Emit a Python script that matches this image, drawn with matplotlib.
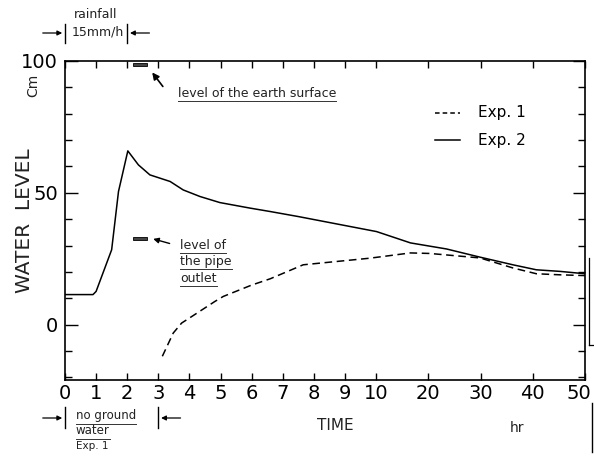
import numpy as np
import matplotlib
matplotlib.use('Agg')
import matplotlib.pyplot as plt
from matplotlib import transforms
from matplotlib.lines import Line2D
from matplotlib.patches import Rectangle

# ---------------- data ----------------
exp2_hours = [0, 0.9, 1.0, 1.5, 1.72, 2.02, 2.36, 2.73, 3.38, 3.8, 4.34, 4.98,
              5.95, 6.6, 7.5, 9.0, 10.1, 16.6, 23.5, 29.9, 36.2, 40.7, 45.2, 50]
exp2_level = [11.4, 11.4, 12.6, 28.4, 50.5, 65.9, 60.6, 56.8, 54.3, 51.1, 48.6, 46.3,
              44.2, 42.9, 41.0, 37.6, 35.3, 31.0, 28.7, 25.6, 22.7, 20.8, 20.2, 19.3]

exp1_hours = [3.13, 3.48, 3.75, 4.0, 4.82, 5.09, 6.0, 6.6, 7.66, 9.8, 16.6, 20.3,
              25.4, 29.9, 36.2, 40.7, 45.2, 50]
exp1_level = [-12.0, -3.2, 0.6, 2.5, 8.8, 10.7, 15.0, 17.4, 22.7, 25.2, 27.2, 27.0,
              26.1, 25.3, 21.5, 19.3, 18.9, 18.6]

x_ticks = [0, 1, 2, 3, 4, 5, 6, 7, 8, 9, 10, 20, 30, 40, 50]
y_major = [0, 50, 100]
y_minor = [-20, -10, 10, 20, 30, 40, 60, 70, 80, 90]
rain_interval = [0, 2]
no_ground_interval = [0, 3]
earth_surface_level = 98.6
pipe_outlet_level = 32.8
legend_labels = ['Exp. 1', 'Exp. 2']

# ---------------- figure ----------------
W, H = 594, 457
fig = plt.figure(figsize=(W / 100, H / 100), dpi=100)
ax = fig.add_axes([65 / W, 1 - 380 / H, 520 / W, 319 / H])

_bx = [-100, 0, 10, 50, 1000]
_by = [-100, 0, 10, 10 + 40 * 0.168, 10 + 40 * 0.168 + 950 * 0.168]


def fwd(t):
    return np.interp(t, _bx, _by)


def inv(u):
    return np.interp(u, _by, _bx)


ax.set_xscale('function', functions=(fwd, inv))
ax.set_xlim(0, 50)
ax.set_ylim(-21, 100)

ax.plot(exp2_hours, exp2_level, color='black', lw=1.1)
ax.plot(exp1_hours, exp1_level, color='black', lw=1.1, ls=(0, (5, 3)))

ax.set_xticks(x_ticks)
ax.set_xticklabels([str(v) for v in x_ticks])
ax.set_xticks([], minor=True)
ax.set_yticks(y_major)
ax.set_yticks(y_minor, minor=True)
ax.tick_params(which='both', direction='in', top=True, right=True,
               labelsize=14, width=1.0, color='black')
ax.tick_params(axis='y', which='major', length=9, pad=5)
ax.tick_params(axis='y', which='minor', length=5)
ax.tick_params(axis='x', which='major', length=5, pad=3)
for s in ax.spines.values():
    s.set_linewidth(1.2)

# keep the last x label inside the picture
last = ax.get_xticklabels()[-1]
last.set_transform(last.get_transform() +
                   transforms.ScaledTranslation(-6 / 100, 0, fig.dpi_scale_trans))

# axis titles
fig.text(25 / W, 1 - 221 / H, 'WATER  LEVEL', rotation=90, ha='center', va='center',
         fontsize=14.5, color='#222222')
fig.text(33 / W, 1 - 85 / H, 'Cm', rotation=90, ha='center', va='center',
         fontsize=10, color='#222222')
fig.text(335 / W, 1 - 425 / H, 'TIME', ha='center', va='center', fontsize=11,
         color='#222222')
fig.text(517 / W, 1 - 428 / H, 'hr', ha='center', va='center', fontsize=10,
         color='#222222')

# legend (hand drawn style)
fig.add_artist(Line2D([435 / W, 460 / W], [1 - 113 / H] * 2, color='black', lw=1.1,
                      ls=(0, (3, 2))))
fig.add_artist(Line2D([435 / W, 460 / W], [1 - 140 / H] * 2, color='black', lw=1.1))
fig.text(478 / W, 1 - 113 / H, legend_labels[0], ha='left', va='center', fontsize=11)
fig.text(478 / W, 1 - 140 / H, legend_labels[1], ha='left', va='center', fontsize=11)

underline_targets = []

# earth surface marker
ax.add_patch(Rectangle((2.2, earth_surface_level - 0.6), 0.45, 1.2,
                       facecolor='#444444', edgecolor='black', lw=0.6, clip_on=False))
ax.annotate('', xy=(2.75, 96.5), xytext=(3.2, 89.5),
            arrowprops=dict(arrowstyle='-|>', color='black', lw=1.2, mutation_scale=10))
t1 = ax.text(3.63, 87.5, 'level of the earth surface', ha='left', va='center',
             fontsize=9, color='#222222')
underline_targets.append(t1)

# pipe outlet marker
ax.add_patch(Rectangle((2.19, pipe_outlet_level - 0.6), 0.45, 1.2,
                       facecolor='#444444', edgecolor='black', lw=0.6))
ax.annotate('', xy=(2.75, pipe_outlet_level), xytext=(3.45, pipe_outlet_level - 2.3),
            arrowprops=dict(arrowstyle='-|>', color='black', lw=1.0, mutation_scale=8))
for i, line in enumerate(['level of', 'the pipe', 'outlet']):
    tt = ax.text(3.7, 30.0 - i * 6.2, line, ha='left', va='center', fontsize=9,
                 color='#222222')
    underline_targets.append(tt)

# rainfall bracket (top)
trans = transforms.blended_transform_factory(ax.transData, fig.transFigure)
fig.text(96 / W, 1 - 14 / H, 'rainfall', ha='center', va='center', fontsize=9,
         color='#222222')
for xv in rain_interval:
    fig.add_artist(Line2D([xv, xv], [1 - 24 / H, 1 - 43 / H], transform=trans,
                          color='black', lw=1.0))
ax.annotate('', xy=(rain_interval[0], 1 - 33 / H), xycoords=trans,
            xytext=(-18, 0), textcoords='offset points',
            arrowprops=dict(arrowstyle='-|>', color='black', lw=0.9, mutation_scale=7),
            annotation_clip=False)
ax.annotate('', xy=(rain_interval[1], 1 - 33 / H), xycoords=trans,
            xytext=(18, 0), textcoords='offset points',
            arrowprops=dict(arrowstyle='-|>', color='black', lw=0.9, mutation_scale=7),
            annotation_clip=False)
fig.text(98 / W, 1 - 32 / H, '15mm/h', ha='center', va='center', fontsize=9,
         color='#222222')

# no ground water bracket (bottom)
for xv in no_ground_interval:
    fig.add_artist(Line2D([xv, xv], [1 - 407 / H, 1 - 428 / H], transform=trans,
                          color='black', lw=1.0))
ax.annotate('', xy=(no_ground_interval[0], 1 - 418 / H), xycoords=trans,
            xytext=(-18, 0), textcoords='offset points',
            arrowprops=dict(arrowstyle='-|>', color='black', lw=0.9, mutation_scale=7),
            annotation_clip=False)
ax.annotate('', xy=(no_ground_interval[1], 1 - 418 / H), xycoords=trans,
            xytext=(18, 0), textcoords='offset points',
            arrowprops=dict(arrowstyle='-|>', color='black', lw=0.9, mutation_scale=7),
            annotation_clip=False)
for i, line in enumerate(['no ground', 'water']):
    tt = fig.text(76 / W, 1 - (416 + i * 15) / H, line, ha='left', va='center',
                  fontsize=8.5, color='#222222')
    underline_targets.append(tt)
fig.text(76 / W, 1 - 446 / H, 'Exp. 1', ha='left', va='center', fontsize=7.5,
         color='#222222')

# scan artefacts at the right edge
fig.add_artist(Line2D([589 / W, 589 / W], [1 - 258 / H, 1 - 345 / H], color='black', lw=0.9))
fig.add_artist(Line2D([589 / W, 594 / W], [1 - 345 / H] * 2, color='black', lw=0.9))
fig.add_artist(Line2D([592 / W, 592 / W], [1 - 403 / H, 1 - 452 / H], color='black', lw=1.0))

# underline texts
fig.canvas.draw()
renderer = fig.canvas.get_renderer()
for tt in underline_targets:
    bb = tt.get_window_extent(renderer)
    fig.add_artist(Line2D([bb.x0 / W, bb.x1 / W], [(bb.y0 - 1) / H] * 2,
                          color='#333333', lw=0.7))

fig.savefig('out.png', dpi=100)
